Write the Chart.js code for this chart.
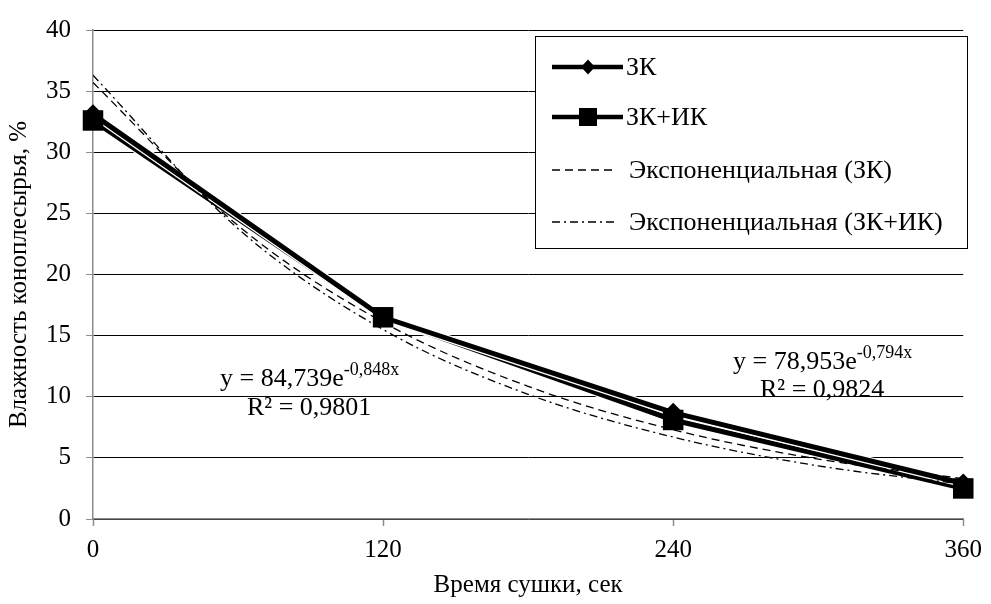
<!DOCTYPE html>
<html>
<head>
<meta charset="utf-8">
<title>Влажность коноплесырья</title>
<script src="https://cdn.jsdelivr.net/npm/chart.js@4/dist/chart.umd.min.js"></script>
<style>
    body { margin: 0; background: #ffffff; }
    #chart { display: block; }
</style>
</head>
<body>
<canvas id="chart" width="991" height="604"></canvas>
<script>
// Chart data
const times = [0, 120, 240, 360];                 // Время сушки, сек
const seriesZK = [33.1, 16.5, 8.7, 2.9];          // ЗК
const seriesZKIK = [32.6, 16.5, 8.1, 2.5];        // ЗК+ИК

// Trendlines (exponential)
const trendTimes = [0, 60, 120, 180, 240, 300, 360];
const trendZK = [35.7, 24.0, 16.1, 10.85, 7.3, 4.9, 3.3];
const trendZKIK = [36.3, 23.75, 15.5, 10.2, 6.7, 4.35, 2.85];

const seriesNames = ['ЗК', 'ЗК+ИК', 'Экспоненциальная (ЗК)', 'Экспоненциальная (ЗК+ИК)'];
const yTicks = [0, 5, 10, 15, 20, 25, 30, 35, 40];

const FONT = "'Liberation Serif', 'Times New Roman', serif";

// Pair x and y arrays into points
function toPoints(xs, ys) {
    return xs.map((x, i) => ({ x: x, y: ys[i] }));
}

// Custom legend box in the top right corner of the plot
const legendBox = {
    id: 'legendBox',
    afterDraw(chart) {
        const ctx = chart.ctx;
        ctx.save();
        ctx.fillStyle = '#ffffff';
        ctx.fillRect(535, 36, 433, 213);
        ctx.strokeStyle = '#000000';
        ctx.lineWidth = 1;
        ctx.strokeRect(535.5, 36.5, 432, 212);

        const rows = [67, 117, 170, 222];
        const x0 = 552, x1 = 623, xm = 588;
        rows.forEach((y, i) => {
            ctx.strokeStyle = '#000000';
            ctx.fillStyle = '#000000';
            if (i < 2) {
                ctx.setLineDash([]);
                ctx.lineWidth = 4.5;
            } else {
                ctx.lineWidth = 1.3;
                ctx.setLineDash(i === 2 ? [8, 5] : [8, 4, 2, 4]);
            }
            ctx.beginPath();
            ctx.moveTo(x0, y);
            ctx.lineTo(i < 2 ? x1 : 615, y);
            ctx.stroke();
            ctx.setLineDash([]);
            if (i === 0) {
                ctx.beginPath();
                ctx.moveTo(xm, y - 7.5);
                ctx.lineTo(xm + 7, y);
                ctx.lineTo(xm, y + 7.5);
                ctx.lineTo(xm - 7, y);
                ctx.closePath();
                ctx.fill();
            } else if (i === 1) {
                ctx.fillRect(xm - 9, y - 9, 18, 18);
            }
            ctx.font = '26px ' + FONT;
            ctx.textBaseline = 'middle';
            ctx.textAlign = 'left';
            ctx.fillText(seriesNames[i], i < 2 ? 626 : 629, y + 1);
        });
        ctx.restore();
    }
};

// Trendline equations with superscript exponent
function drawEquation(ctx, x, y, base, exp) {
    ctx.font = '26px ' + FONT;
    ctx.fillText(base, x, y);
    const w = ctx.measureText(base).width;
    ctx.font = '18px ' + FONT;
    ctx.fillText(exp, x + w, y - 11);
}

const equations = {
    id: 'equations',
    afterDatasetsDraw(chart) {
        const ctx = chart.ctx;
        ctx.save();
        ctx.fillStyle = '#000000';
        ctx.textBaseline = 'alphabetic';
        ctx.textAlign = 'left';
        drawEquation(ctx, 220, 386, 'y = 84,739e', '-0,848x');
        ctx.font = '26px ' + FONT;
        ctx.fillText('R² = 0,9801', 247, 415);
        drawEquation(ctx, 733, 369, 'y = 78,953e', '-0,794x');
        ctx.font = '26px ' + FONT;
        ctx.fillText('R² = 0,9824', 760, 397);
        ctx.restore();
    }
};

// Thick data line with a thin white outline, like the original
function lineSet(label, ys, color, width, order) {
    return {
        label: label,
        data: toPoints(times, ys),
        borderColor: color,
        borderWidth: width,
        pointRadius: 0,
        tension: 0,
        fill: false,
        clip: false,
        order: order
    };
}

// Markers only
function markerSet(label, ys, style, radius, order) {
    return {
        label: label,
        data: toPoints(times, ys),
        showLine: false,
        backgroundColor: '#000000',
        borderColor: '#000000',
        pointStyle: style,
        pointRadius: radius,
        pointBorderWidth: 0,
        clip: false,
        order: order
    };
}

const ctx = document.getElementById('chart').getContext('2d');

new Chart(ctx, {
    type: 'line',
    data: {
        datasets: [
            lineSet(seriesNames[1], seriesZKIK, '#ffffff', 7.5, 9),
            lineSet(seriesNames[1], seriesZKIK, '#000000', 5, 8),
            lineSet(seriesNames[0], seriesZK, '#ffffff', 7.5, 7),
            lineSet(seriesNames[0], seriesZK, '#000000', 5, 6),
            {
                label: seriesNames[2],
                data: toPoints(trendTimes, trendZK),
                borderColor: '#000000',
                borderWidth: 1.3,
                borderDash: [8, 5],
                pointRadius: 0,
                cubicInterpolationMode: 'monotone',
                fill: false,
                order: 5
            },
            {
                label: seriesNames[3],
                data: toPoints(trendTimes, trendZKIK),
                borderColor: '#000000',
                borderWidth: 1.3,
                borderDash: [8, 4, 2, 4],
                pointRadius: 0,
                cubicInterpolationMode: 'monotone',
                fill: false,
                order: 4
            },
            markerSet(seriesNames[0], seriesZK, 'rectRot', 10, 3),
            markerSet(seriesNames[1], seriesZKIK, 'rect', 14.5, 2)
        ]
    },
    options: {
        responsive: false,
        animation: false,
        layout: {
            padding: { top: 23, right: 25, left: 0, bottom: 0 }
        },
        plugins: {
            legend: { display: false },
            tooltip: { enabled: false }
        },
        scales: {
            x: {
                type: 'linear',
                min: 0,
                max: 360,
                afterFit(scale) { scale.height = 85; },
                afterBuildTicks(scale) { scale.ticks = times.map(v => ({ value: v })); },
                ticks: {
                    color: '#000000',
                    font: { family: FONT, size: 25 },
                    padding: 9,
                    maxRotation: 0
                },
                grid: {
                    drawOnChartArea: false,
                    drawTicks: true,
                    tickLength: 7,
                    tickColor: '#8c8c8c',
                    tickWidth: 1.5
                },
                border: { color: '#8c8c8c', width: 1.5 },
                title: {
                    display: true,
                    text: 'Время сушки, сек',
                    color: '#000000',
                    font: { family: FONT, size: 25 },
                    padding: { top: 4, bottom: 4 }
                }
            },
            y: {
                min: 0,
                max: 40,
                afterFit(scale) { scale.width = 93; },
                afterBuildTicks(scale) { scale.ticks = yTicks.map(v => ({ value: v })); },
                ticks: {
                    color: '#000000',
                    font: { family: FONT, size: 25 },
                    padding: 15
                },
                grid: {
                    color: '#000000',
                    lineWidth: 1,
                    drawTicks: true,
                    tickLength: 7,
                    tickColor: '#8c8c8c'
                },
                border: { color: '#8c8c8c', width: 1.5 },
                title: {
                    display: true,
                    text: 'Влажность коноплесырья, %',
                    color: '#000000',
                    font: { family: FONT, size: 25 },
                    padding: { top: 4, bottom: 4 }
                }
            }
        }
    },
    plugins: [equations, legendBox]
});
</script>
</body>
</html>
